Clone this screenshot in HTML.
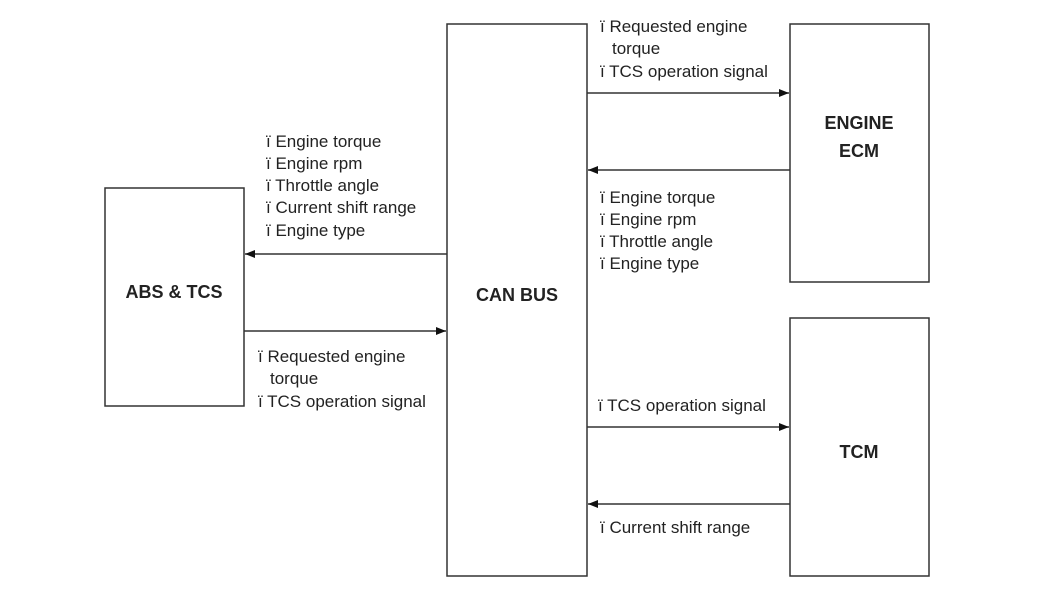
<!DOCTYPE html>
<html><head><style>body{margin:0;background:#fff}svg{display:block}text{font-family:"Liberation Sans",sans-serif;font-size:17px;fill:#222}.b{font-weight:bold;font-size:18px}</style></head><body>
<svg width="1050" height="604" viewBox="0 0 1050 604">
<defs><marker id="a" markerWidth="10" markerHeight="8" refX="10" refY="4" orient="auto" markerUnits="userSpaceOnUse"><path d="M0,0L10,4L0,8z" fill="#111"/></marker></defs>
<g fill="none" stroke="#333" stroke-width="1.5">
<rect x="105" y="188" width="139" height="218"/>
<rect x="447" y="24" width="140" height="552"/>
<rect x="790" y="24" width="139" height="258"/>
<rect x="790" y="318" width="139" height="258"/>
<line x1="447" y1="254" x2="245" y2="254" marker-end="url(#a)"/>
<line x1="244" y1="331" x2="446" y2="331" marker-end="url(#a)"/>
<line x1="587" y1="93" x2="789" y2="93" marker-end="url(#a)"/>
<line x1="790" y1="170" x2="588" y2="170" marker-end="url(#a)"/>
<line x1="587" y1="427" x2="789" y2="427" marker-end="url(#a)"/>
<line x1="790" y1="504" x2="588" y2="504" marker-end="url(#a)"/>
</g>
<text class="b" x="174" y="298" text-anchor="middle">ABS &amp; TCS</text>
<text class="b" x="517" y="301" text-anchor="middle">CAN BUS</text>
<text class="b" x="859" y="129" text-anchor="middle">ENGINE</text>
<text class="b" x="859" y="157" text-anchor="middle">ECM</text>
<text class="b" x="859" y="458" text-anchor="middle">TCM</text>
<text x="266" y="147">ï Engine torque</text>
<text x="266" y="169">ï Engine rpm</text>
<text x="266" y="191">ï Throttle angle</text>
<text x="266" y="213">ï Current shift range</text>
<text x="266" y="236">ï Engine type</text>
<text x="258" y="362">ï Requested engine</text>
<text x="270" y="384">torque</text>
<text x="258" y="407">ï TCS operation signal</text>
<text x="600" y="32">ï Requested engine</text>
<text x="612" y="54">torque</text>
<text x="600" y="77">ï TCS operation signal</text>
<text x="600" y="203">ï Engine torque</text>
<text x="600" y="225">ï Engine rpm</text>
<text x="600" y="247">ï Throttle angle</text>
<text x="600" y="269">ï Engine type</text>
<text x="598" y="411">ï TCS operation signal</text>
<text x="600" y="533">ï Current shift range</text>
</svg>
</body></html>
